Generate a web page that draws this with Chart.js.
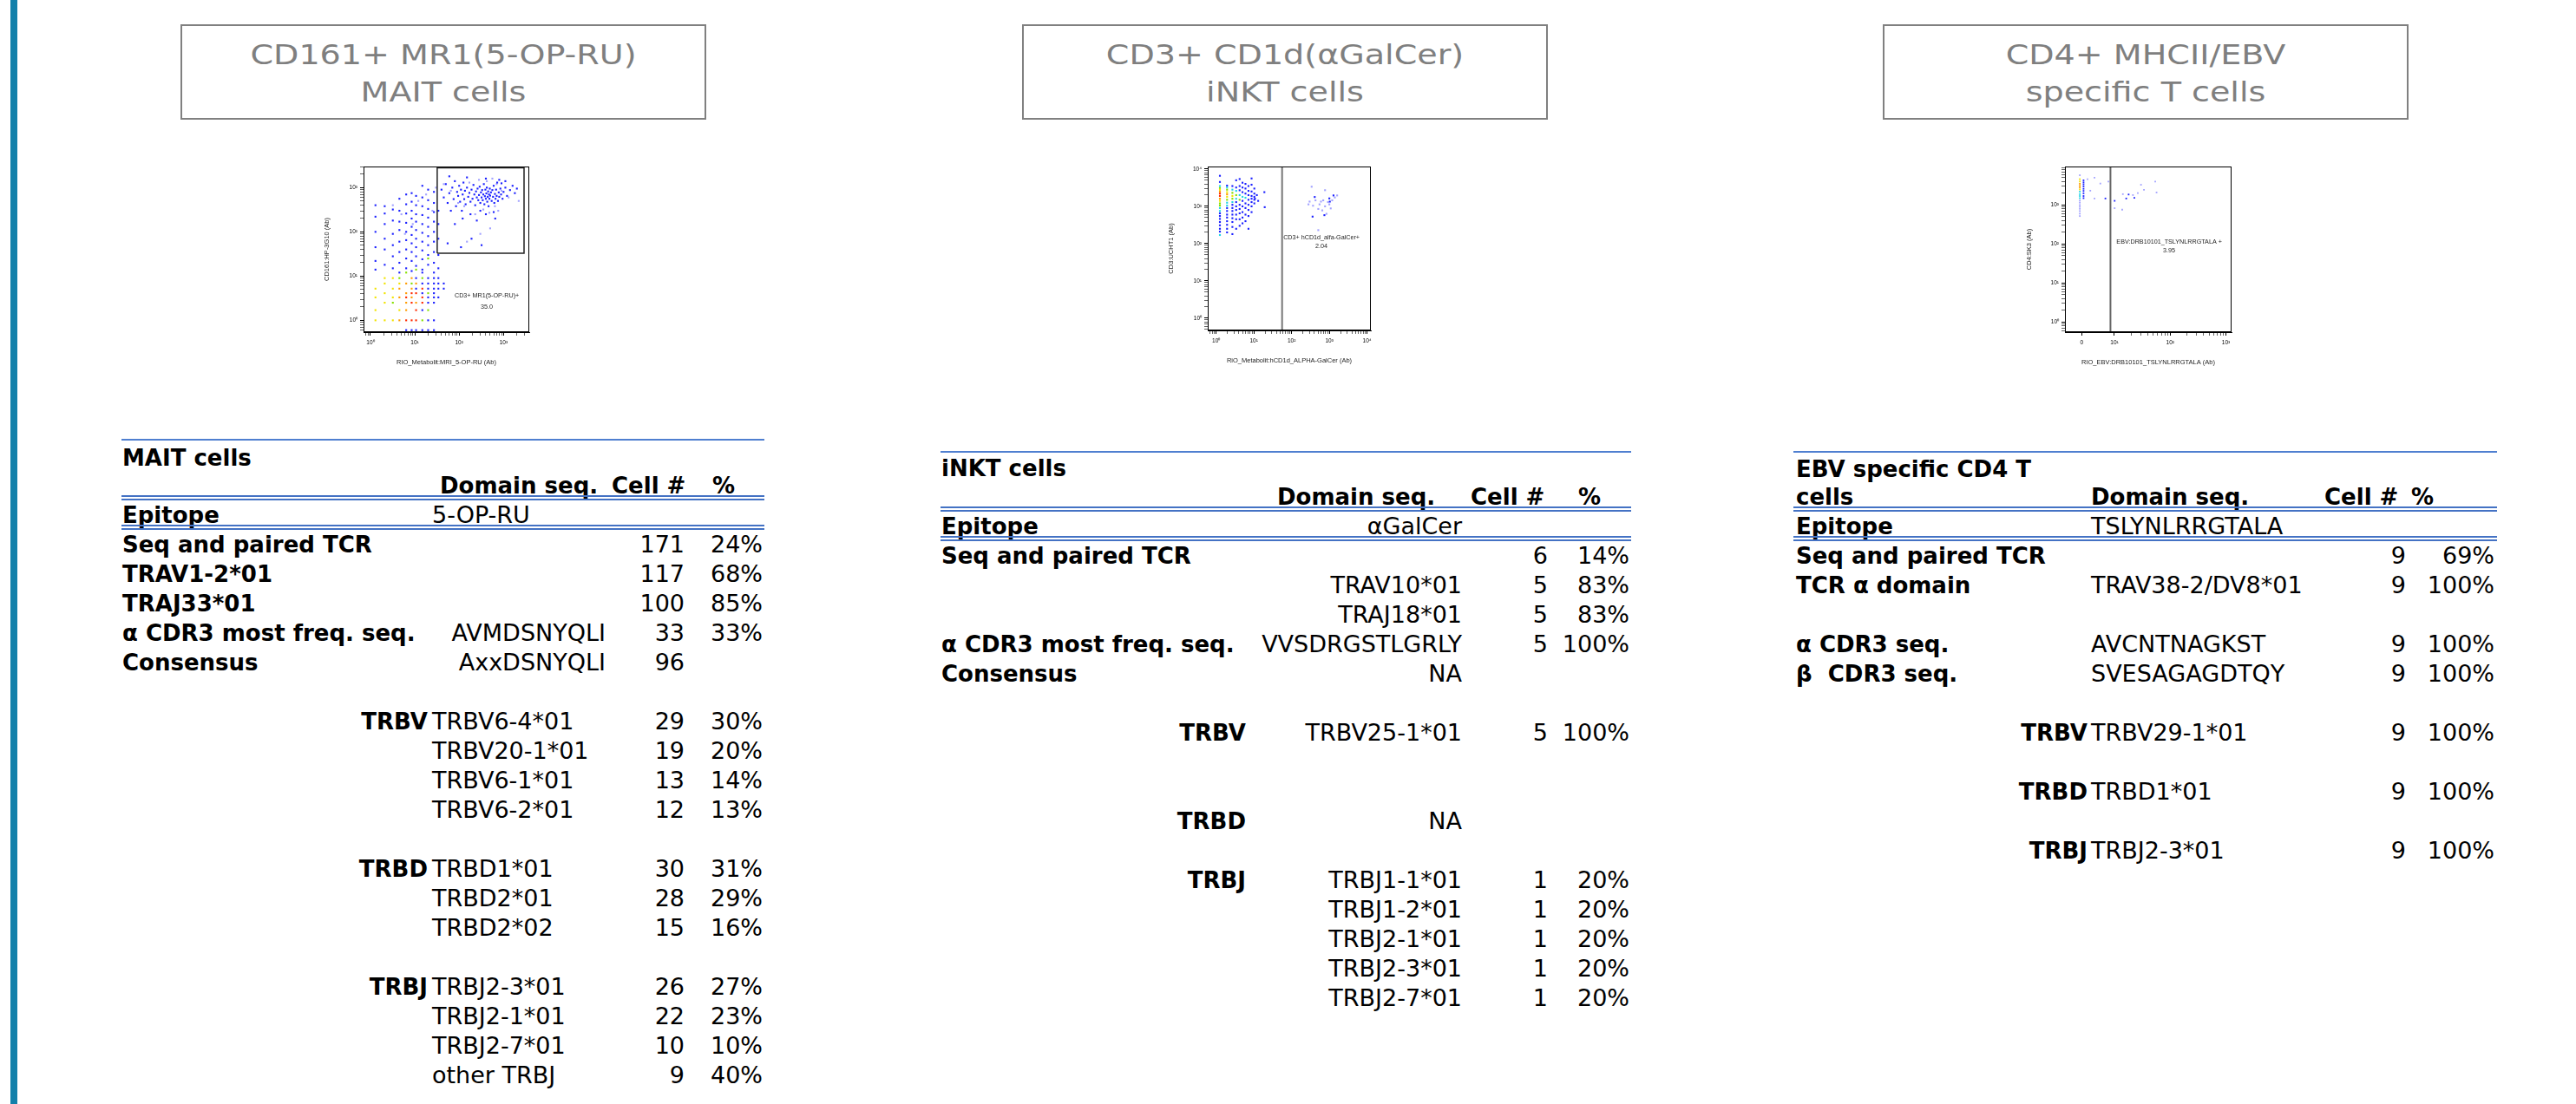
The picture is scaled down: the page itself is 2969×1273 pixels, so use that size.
<!DOCTYPE html>
<html>
<head>
<meta charset="utf-8">
<script src="https://cdn.jsdelivr.net/npm/chart.js@4.4.1/dist/chart.umd.min.js"></script>
<style>
    body { margin: 0; background: #fff; }
    #page { position: relative; width: 2969px; height: 1273px; overflow: hidden; font-family: "DejaVu Sans", sans-serif; background: #fff; }
    .sidebar { position: absolute; left: 12px; top: 0; width: 8px; height: 1273px; background: #1380aa; }
    .titlebox { position: absolute; top: 28px; height: 106px; border: 2px solid #808080; }
    .titleline { position: absolute; left: 0; right: 0; text-align: center; font-size: 32px; line-height: 40px; color: #7f7f7f; transform: scaleX(1.19); white-space: pre; }
    .t { position: absolute; white-space: pre; line-height: 34px; height: 34px; color: #000; font-size: 27px; }
    .b { font-weight: bold; font-size: 26px; }
    .r { transform: translateX(-100%); }
    .rule { position: absolute; height: 2px; background: #4f7fd0; }
    .dbl { position: absolute; height: 2px; border-top: 2px solid #4472c4; border-bottom: 2px solid #4472c4; }
    canvas { position: absolute; }
</style>
</head>
<body>
<div id="page">
    <div class="sidebar"></div>
    <canvas id="maitChart" width="280" height="270" style="left:360px;top:170px"></canvas>
    <canvas id="inktChart" width="280" height="270" style="left:1320px;top:170px"></canvas>
    <canvas id="ebvChart" width="280" height="270" style="left:2320px;top:170px"></canvas>
</div>
<script>
/* ================= TITLES ================= */
const panelTitles = [
    ["CD161+ MR1(5-OP-RU)", "MAIT cells"],
    ["CD3+ CD1d(αGalCer)", "iNKT cells"],
    ["CD4+ MHCII/EBV", "specific T cells"]
];

/* ================= TABLE DATA ================= */
const maitCaption = ["MAIT cells"];
const maitEpitope = "5-OP-RU";
const maitLabels  = ["Seq and paired TCR", "TRAV1-2*01", "TRAJ33*01", "α CDR3 most freq. seq.", "Consensus", "", "", "", "", "", "", "", "", "", "", "", "", "", ""];
const maitGroups  = ["", "", "", "", "", "", "TRBV", "", "", "", "", "TRBD", "", "", "", "TRBJ", "", "", ""];
const maitDomains = ["", "", "", "AVMDSNYQLI", "AxxDSNYQLI", "", "TRBV6-4*01", "TRBV20-1*01", "TRBV6-1*01", "TRBV6-2*01", "", "TRBD1*01", "TRBD2*01", "TRBD2*02", "", "TRBJ2-3*01", "TRBJ2-1*01", "TRBJ2-7*01", "other TRBJ"];
const maitCells   = [171, 117, 100, 33, 96, null, 29, 19, 13, 12, null, 30, 28, 15, null, 26, 22, 10, 9];
const maitPcts    = [24, 68, 85, 33, null, null, 30, 20, 14, 13, null, 31, 29, 16, null, 27, 23, 10, 40];

const inktCaption = ["iNKT cells"];
const inktEpitope = "αGalCer";
const inktLabels  = ["Seq and paired TCR", "", "", "α CDR3 most freq. seq.", "Consensus", "", "", "", "", "", "", "", "", "", "", ""];
const inktGroups  = ["", "", "", "", "", "", "TRBV", "", "", "TRBD", "", "TRBJ", "", "", "", ""];
const inktDomains = ["", "TRAV10*01", "TRAJ18*01", "VVSDRGSTLGRLY", "NA", "", "TRBV25-1*01", "", "", "NA", "", "TRBJ1-1*01", "TRBJ1-2*01", "TRBJ2-1*01", "TRBJ2-3*01", "TRBJ2-7*01"];
const inktCells   = [6, 5, 5, 5, null, null, 5, null, null, null, null, 1, 1, 1, 1, 1];
const inktPcts    = [14, 83, 83, 100, null, null, 100, null, null, null, null, 20, 20, 20, 20, 20];

const ebvCaption = ["EBV specific CD4 T", "cells"];
const ebvEpitope = "TSLYNLRRGTALA";
const ebvLabels  = ["Seq and paired TCR", "TCR α domain", "", "α CDR3 seq.", "β  CDR3 seq.", "", "", "", "", "", ""];
const ebvGroups  = ["", "", "", "", "", "", "TRBV", "", "TRBD", "", "TRBJ"];
const ebvDomains = ["", "TRAV38-2/DV8*01", "", "AVCNTNAGKST", "SVESAGAGDTQY", "", "TRBV29-1*01", "", "TRBD1*01", "", "TRBJ2-3*01"];
const ebvCells   = [9, 9, null, 9, 9, null, 9, null, 9, null, 9];
const ebvPcts    = [69, 100, null, 100, 100, null, 100, null, 100, null, 100];

/* ================= FLOW DATA (x, y) ================= */
// MAIT: CD161 vs MR1(5-OP-RU)
const maitBlue = [
    [1.3,400],[1.3,220],[1.3,100],[1.3,45],[1.3,22],[1.3,14],
    [2.1,380],[2.1,260],[2.1,150],[2.1,70],[2.1,40],[2.1,18],
    [3.2,320],[3.2,180],[3.2,90],[3.2,50],[3.2,28],[3.2,15],
    [4.5,560],[4.5,300],[4.5,170],[4.5,110],[4.5,60],[4.5,35],[4.5,20],[4.5,12],
    [6.4,700],[6.4,420],[6.4,260],[6.4,160],[6.4,100],[6.4,65],[6.4,40],[6.4,25],[6.4,15],
    [8.5,750],[8.5,480],[8.5,300],[8.5,200],[8.5,130],[8.5,85],[8.5,55],[8.5,35],[8.5,22],[8.5,13],
    [10.7,650],[10.7,400],[10.7,250],[10.7,170],[10.7,110],[10.7,70],[10.7,45],[10.7,28],[10.7,17],
    [14.8,1100],[14.8,600],[14.8,380],[14.8,240],[14.8,150],[14.8,95],[14.8,60],[14.8,38],[14.8,24],[14.8,14],
    [20,900],[20,520],[20,330],[20,210],[20,130],[20,80],[20,50],[20,30],[20,18],
    [27,800],[27,450],[27,280],[27,170],[27,100],[27,60],[27,35],[27,20],[27,12],
    [34,300],[34,150],[34,70],[34,30],[34,15],
    [14.8,1.7],[20,1],[20,2.5],[20,3.3],[20,5.2],[20,6.8],[20,9],[27,1],[27,2.5],[27,3.3],[27,4.1],[27,5.2],[27,6.8],
    [34,3.3],[34,5.2],[34,6.8],[34,9],[45,6.8],[45,5.2],[27,9],[14.8,6.8],[14.8,4.1],[10.7,5.2],[10.7,9],[14.8,12],
    [6.4,0.6],[10.7,0.6],[14.8,0.6],[20,0.6],[27,0.6],[8.5,0.6],
    [40,900],[45,600],[50,1200],[55,450],[60,750],[65,300],[70,1000],[75,550],[80,1400],[85,380],[90,800],[95,650],
    [100,1100],[105,480],[110,900],[115,300],[120,700],[125,1300],[130,550],[135,850],[140,420],[150,1000],
    [160,620],[170,760],[180,480],[190,900],[200,560],[210,1150],[220,700],[230,400],[240,820],[250,600],
    [260,950],[270,520],[280,680],[290,1050],[300,450],[310,780],[320,600],[330,880],[340,520],[350,700],
    [360,1200],[370,420],[380,640],[390,900],[400,560],[410,740],[420,1000],[430,480],[440,620],[450,820],
    [460,380],[470,700],[480,560],[490,950],[500,660],[520,780],[540,500],[560,880],[580,620],[600,1100],
    [620,450],[640,720],[660,560],[680,900],[700,650],[720,1300],[750,500],[780,780],[800,620],[850,950],
    [880,700],[900,1250],[950,560],[1000,800],[1100,1000],[1200,650],[1400,880],[1600,1100],[1800,750],[2000,950],
    [300,300],[180,250],[400,250],[250,180],[120,200],[600,280],[80,150],[55,55],[110,45],[320,50],[190,70],
    [650,200],[60,1800],[150,1700],[400,1600],[800,1500],[1100,1400]
];
const maitLight = [
    [45,1200],[65,850],[95,450],[130,380],[170,1300],[230,250],[280,1500],[350,320],[420,1400],[480,270],
    [560,1600],[640,380],[700,1200],[760,300],[900,850],[1300,600],[2200,500],[150,60],[300,90],[500,120],
    [3.2,400],[5,250],[12,500],[18,700],[25,300],[9,150],[30,1000],[6,90]
];
const maitGreen  = [[4.5,9],[6.4,12],[8.5,6.8],[14.8,1],[20,1.7],[20,4.1],[14.8,9],[3.2,2.5],[10.7,14],[20,25]];
const maitYellow = [[1.3,1],[2.1,1],[1.3,1.7],[2.1,2.5],[1.3,3.3],[2.1,4.1],[3.2,5.2],[2.1,6.8],[3.2,1],[4.5,1.7],[3.2,3.3],[1.3,5.2],[4.5,6.8],[3.2,9],[2.1,9]];
const maitOrange = [[4.5,1],[6.4,2.5],[4.5,3.3],[6.4,4.1],[8.5,5.2],[4.5,5.2],[6.4,6.8],[8.5,3.3],[6.4,1.7],[10.7,2.5],[8.5,9],[10.7,6.8]];
const maitRed    = [[6.4,1],[8.5,1],[8.5,2.5],[10.7,4.1],[10.7,1.7],[14.8,3.3],[14.8,5.2],[8.5,4.1],[10.7,1],[14.8,2.5],[6.4,3.3]];
const maitGate   = [[32,33],[32,2800],[2900,2800],[2900,33],[32,33]];

// iNKT: CD3 vs CD1d(aGalCer)
const inktBlue = [
    [1.26,6600],[1.26,4500],[1.26,650],[1.26,550],[1.26,460],[1.26,380],[1.26,310],[1.26,250],[1.26,210],
    [1.95,3600],[1.95,900],[1.95,750],[1.95,600],[1.95,500],[1.95,400],[1.95,320],[1.95,250],[1.95,200],
    [2.7,3500],[2.7,1100],[2.7,900],[2.7,750],[2.7,600],[2.7,480],[2.7,380],[2.7,280],[2.7,180],
    [3.4,5000],[3.4,3200],[3.4,1300],[3.4,1000],[3.4,800],[3.4,600],[3.4,450],[3.4,250],
    [4.2,5400],[4.2,3500],[4.2,2700],[4.2,1100],[4.2,850],[4.2,650],[4.2,450],[4.2,300],
    [5.0,4300],[5.0,3200],[5.0,2400],[5.0,1400],[5.0,1000],[5.0,700],[5.0,500],[5.0,350],
    [6.0,4000],[6.0,3000],[6.0,2200],[6.0,1200],[6.0,900],[6.0,600],[6.0,400],
    [7.2,3500],[7.2,2600],[7.2,2000],[7.2,1500],[7.2,1100],[7.2,800],[7.2,550],[7.2,250],
    [8.7,5600],[8.7,3800],[8.7,2500],[8.7,1900],[8.7,1600],[8.7,1300],[8.7,1000],[8.7,700],
    [10.3,3000],[10.3,2200],[10.3,1800],[10.3,1500],[10.3,1200],[10.7,1600],[12,2000],[13,1400],[19,2400],[19.4,950],
    [410,1780],[1000,1630],[1290,1960],[740,580],[360,530],[1030,1340]
];
const inktLight = [
    [340,3360],[300,1340],[370,1040],[280,1130],[510,850],[690,1450],[770,1000],[1190,1450],[1400,1730],
    [1610,1960],[770,2710],[1000,1130],[1090,880],[840,630],[510,230],[600,1340],[920,1300],[430,1450],
    [550,1130],[650,780]
];
const inktCyan   = [[1.26,3500],[1.26,900],[1.26,750],[1.95,3200],[1.95,1250],[1.95,1050],[2.7,2800],[2.7,1300],[3.4,2600],[3.4,1600],[4.2,2000],[5.0,1800],[6.0,1700],[1.26,170]];
const inktGreen  = [[1.26,1200],[1.26,3100],[1.95,1500],[1.95,2800],[2.7,2300],[2.7,1600],[3.4,2000],[4.2,1500],[1.26,1050]];
const inktYellow = [[1.26,1400],[1.26,2800],[1.95,1800],[1.95,2400],[2.7,1900]];
const inktOrange = [[1.26,1600],[1.26,2500],[1.95,2100]];
const inktRed    = [[1.26,1900],[1.26,2200]];
const inktGate   = [[56,0.47],[56,11700]];

// EBV: CD4 vs DRB1*01:01 TSLYNLRRGTALA
const ebvBlue = [
    [2.8,4300],[2.8,3800],[2.8,3400],[2.8,3000],[2.8,2600],[2.8,2300],[2.8,2000],[2.8,1700],[2.8,1500],
    [6.9,1470],[10.1,1280],[16.3,1470],[18,1860],[22.8,1520]
];
const ebvLight = [
    [2.4,5800],[2.4,1300],[2.4,1150],[2.4,1000],[2.4,900],[2.4,800],[2.4,700],[2.4,600],[2.4,520],
    [3.3,4600],[4.4,5000],[5.6,3550],[7.8,4000],[3.7,2330],[4.4,1470],[14.2,1900],[21.5,1800],[30,3300],
    [54,4000],[57,2100],[10.1,830],[13.8,760],[26.3,2030],[33.9,2450]
];
const ebvCyan   = [[2.4,2200],[2.4,1900],[2.4,1700],[2.4,1500]];
const ebvYellow = [[2.4,4600],[2.4,4000],[2.4,2500]];
const ebvOrange = [[2.4,3500],[2.4,3100],[2.4,2800]];
const ebvGate   = [[8.5,0.55],[8.5,9700]];

const decadeLabels = [[1, "10⁰"], [10, "10¹"], [100, "10²"], [1000, "10³"], [10000, "10⁴"]];

/* ================= PAGE BUILD ================= */
const page = document.getElementById("page");

function put(text, x, y, cls) {
    const el = document.createElement("div");
    el.className = "t " + (cls || "");
    el.textContent = text;
    el.style.left = x + "px";
    el.style.top = (y - 17) + "px";
    page.appendChild(el);
    return el;
}
function rule(x1, x2, y, cls) {
    const el = document.createElement("div");
    el.className = cls;
    el.style.left = x1 + "px";
    el.style.width = (x2 - x1) + "px";
    el.style.top = y + "px";
    page.appendChild(el);
}

// title boxes
const boxLeft = [208, 1178, 2170];
panelTitles.forEach((lines, i) => {
    const box = document.createElement("div");
    box.className = "titlebox";
    box.style.left = boxLeft[i] + "px";
    box.style.width = "602px";
    lines.forEach((line, j) => {
        const d = document.createElement("div");
        d.className = "titleline";
        d.textContent = line;
        d.style.top = (13 + j * 43) + "px";
        box.appendChild(d);
    });
    page.appendChild(box);
});

function drawTable(L, caption, epitope, labels, groups, domains, cells, pcts) {
    rule(L.lineL, L.lineR, L.topY, "rule");
    caption.forEach((c, i) => put(c, L.labX, L.capY + i * 32, "b"));
    put("Domain seq.", L.headX[0], L.headY, "b");
    put("Cell #", L.headX[1], L.headY, "b");
    put("%", L.headX[2], L.headY, "b");
    rule(L.lineL, L.lineR, L.dbl1, "dbl");
    put("Epitope", L.labX, L.epiY, "b");
    put(epitope, L.epiX, L.epiY, L.epiAlign === "right" ? "r" : "");
    rule(L.lineL, L.lineR, L.dbl2, "dbl");

    labels.forEach((lab, i) => {
        const y = L.row0 + i * L.rowH;
        if (lab) put(lab, L.labX, y, "b");
        if (groups[i]) put(groups[i], L.grpR, y, "b r");
        if (domains[i]) {
            const right = L.domAlign === "right" || (L.domRightRows || []).includes(i);
            const x = (L.domRightRows || []).includes(i) ? L.domRightX : L.domX;
            put(domains[i], x, y, right ? "r" : "");
        }
        if (cells[i] != null) put(String(cells[i]), L.cellR, y, "r");
        if (pcts[i] != null) put(pcts[i] + "%", L.pctR, y, "r");
    });
}

drawTable({
    lineL: 140, lineR: 881, topY: 506, capY: 528, headY: 560, headX: [507, 705, 821],
    dbl1: 571, epiY: 594, epiX: 498, epiAlign: "left", dbl2: 605, row0: 628, rowH: 34,
    labX: 141, grpR: 493, domX: 498, domAlign: "left", domRightRows: [3, 4], domRightX: 698,
    cellR: 789, pctR: 879
}, maitCaption, maitEpitope, maitLabels, maitGroups, maitDomains, maitCells, maitPcts);

drawTable({
    lineL: 1084, lineR: 1880, topY: 520, capY: 540, headY: 573, headX: [1472, 1695, 1819],
    dbl1: 584, epiY: 607, epiX: 1685, epiAlign: "right", dbl2: 618, row0: 641, rowH: 34,
    labX: 1085, grpR: 1436, domX: 1685, domAlign: "right",
    cellR: 1784, pctR: 1878
}, inktCaption, inktEpitope, inktLabels, inktGroups, inktDomains, inktCells, inktPcts);

drawTable({
    lineL: 2067, lineR: 2878, topY: 520, capY: 541, headY: 573, headX: [2410, 2679, 2779],
    dbl1: 584, epiY: 607, epiX: 2410, epiAlign: "left", dbl2: 618, row0: 641, rowH: 34,
    labX: 2070, grpR: 2406, domX: 2410, domAlign: "left",
    cellR: 2773, pctR: 2875
}, ebvCaption, ebvEpitope, ebvLabels, ebvGroups, ebvDomains, ebvCells, ebvPcts);

/* ================= FLOW PLOTS ================= */
Chart.defaults.font.family = "Liberation Sans";
Chart.defaults.color = "#000";

const framePlugin = {
    id: "frame",
    afterDatasetsDraw(chart, args, opts) {
        const { ctx, chartArea: a } = chart;
        ctx.save();
        ctx.strokeStyle = "#000";
        ctx.lineWidth = 1;
        ctx.strokeRect(a.left + 0.5, a.top + 0.5, a.width - 1, a.height - 1);
        ctx.fillStyle = "#222";
        ctx.font = "7.2px 'Liberation Sans'";
        ctx.textAlign = "center";
        ctx.textBaseline = "middle";
        (opts.notes || []).forEach(n => {
            ctx.fillText(n.text, chart.scales.x.getPixelForValue(n.x), chart.scales.y.getPixelForValue(n.y));
        });
        ctx.restore();
    }
};

function tickList(min, max, majors, from) {
    const list = [];
    for (let k = -1; k <= 5; k++) {
        for (let m = 1; m <= 9; m++) {
            const v = m * Math.pow(10, k);
            if (v >= min && v <= max && v >= (from || 0)) list.push(v);
        }
    }
    majors.forEach(p => { if (!list.some(v => Math.abs(v - p[0]) < 1e-9)) list.push(p[0]); });
    return list.sort((a, b) => a - b);
}

function logAxis(o, majors, title, pos, size) {
    const labelOf = v => { const m = majors.find(p => Math.abs(p[0] - v) < p[0] * 1e-6); return m ? m[1] : ""; };
    return {
        type: "logarithmic",
        position: pos,
        min: o.min,
        max: o.max,
        afterBuildTicks: s => { s.ticks = tickList(o.min, o.max, majors, o.from).map(v => ({ value: v })); },
        afterFit: s => { if (pos === "left") s.width = size; else s.height = size; },
        grid: {
            drawOnChartArea: false,
            drawTicks: true,
            tickLength: 4,
            tickColor: c => (c.tick && labelOf(c.tick.value) ? "#000" : "#666"),
            tickWidth: 1
        },
        border: { display: true, color: "#000", width: 1 },
        ticks: {
            autoSkip: false,
            maxRotation: 0,
            padding: pos === "left" ? 3 : 4,
            font: { size: 6.5 },
            callback: v => labelOf(v)
        },
        title: { display: true, text: title, font: { size: 7.5 }, color: "#222", padding: { top: 4, bottom: 4 } }
    };
}

function dots(arr, color, r) {
    return { type: "scatter", data: arr.map(p => ({ x: p[0], y: p[1] })), backgroundColor: color, borderWidth: 0, pointRadius: r || 1.5, pointStyle: "rect" };
}
function gate(arr, color, width) {
    return { type: "line", data: arr.map(p => ({ x: p[0], y: p[1] })), borderColor: color, borderWidth: width, pointRadius: 0, fill: false, tension: 0 };
}

function flowChart(id, cfg) {
    new Chart(document.getElementById(id), {
        type: "scatter",
        data: { datasets: cfg.datasets },
        options: {
            responsive: false,
            animation: false,
            events: [],
            layout: { padding: cfg.padding },
            plugins: { legend: { display: false }, tooltip: { enabled: false }, frame: { notes: cfg.notes } },
            scales: {
                x: logAxis(cfg.x, cfg.xMajors, cfg.xTitle, "bottom", cfg.xHeight),
                y: logAxis(cfg.y, cfg.yMajors, cfg.yTitle, "left", cfg.yWidth)
            }
        },
        plugins: [framePlugin]
    });
}

const BLUE = "#1d22ff", LIGHT = "#a3a3ff", CYAN = "#22d4e6", GREEN = "#86e000", YELLOW = "#f2e400", ORANGE = "#ff9c00", RED = "#ff2a00";

flowChart("maitChart", {
    x: { min: 0.72, max: 3800 }, y: { min: 0.54, max: 3000 },
    xMajors: decadeLabels.slice(0, 4), yMajors: decadeLabels.slice(0, 4),
    xTitle: "RIO_Metabolit:MRI_5-OP-RU (Ab)", yTitle: "CD161:HP-3G10 (Ab)",
    padding: { left: 8, right: 30, top: 22, bottom: 14 }, yWidth: 51, xHeight: 43,
    notes: [{ text: "CD3+ MR1(5-OP-RU)+", x: 420, y: 3.6 }, { text: "35.0", x: 420, y: 2.0 }],
    datasets: [
        gate(maitGate, "#222", 1.5),
        dots(maitRed, RED), dots(maitOrange, ORANGE), dots(maitYellow, YELLOW), dots(maitGreen, GREEN),
        dots(maitBlue, BLUE), dots(maitLight, LIGHT)
    ]
});

flowChart("inktChart", {
    x: { min: 0.64, max: 12600 }, y: { min: 0.47, max: 11700 },
    xMajors: decadeLabels, yMajors: decadeLabels,
    xTitle: "RiO_Metabolit:hCD1d_ALPHA-GalCer (Ab)", yTitle: "CD3:UCHT1 (Ab)",
    padding: { left: 21, right: 20, top: 22, bottom: 16 }, yWidth: 51, xHeight: 43,
    notes: [{ text: "CD3+ hCD1d_alfa-GalCer+", x: 620, y: 146 }, { text: "2.04", x: 620, y: 85 }],
    datasets: [
        gate(inktGate, "#777", 2),
        dots(inktRed, RED), dots(inktOrange, ORANGE), dots(inktYellow, YELLOW), dots(inktGreen, GREEN),
        dots(inktCyan, CYAN), dots(inktBlue, BLUE), dots(inktLight, LIGHT)
    ]
});

flowChart("ebvChart", {
    x: { min: 1.3, max: 1260, from: 10 }, y: { min: 0.55, max: 9700 },
    xMajors: [[2.6, "0"], [10, "10¹"], [100, "10²"], [1000, "10³"]], yMajors: decadeLabels.slice(0, 4),
    xTitle: "RIO_EBV:DRB10101_TSLYNLRRGTALA (Ab)", yTitle: "CD4:SK3 (Ab)",
    padding: { left: 10, right: 28, top: 22, bottom: 14 }, yWidth: 50, xHeight: 43,
    notes: [{ text: "EBV:DRB10101_TSLYNLRRGTALA +", x: 96, y: 112 }, { text: "3.95", x: 96, y: 68 }],
    datasets: [
        gate(ebvGate, "#666", 2),
        dots(ebvOrange, ORANGE, 1.3), dots(ebvYellow, YELLOW, 1.3), dots(ebvCyan, CYAN, 1.3),
        dots(ebvBlue, BLUE, 1.3), dots(ebvLight, LIGHT, 1.3)
    ]
});
</script>
</body>
</html>
